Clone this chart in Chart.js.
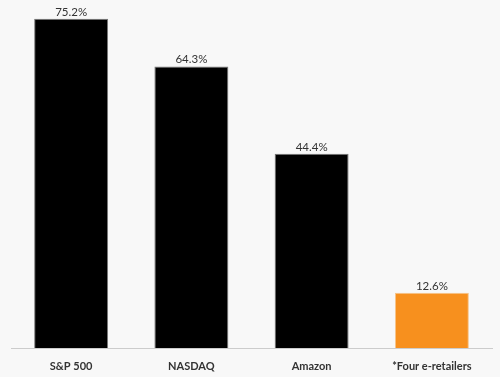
<!DOCTYPE html>
<html><head><meta charset="utf-8">
<script src="https://cdn.jsdelivr.net/npm/chart.js@4/dist/chart.umd.min.js"></script>
<style>html,body{margin:0;padding:0;background:#f8f8f8;}canvas{display:block;}</style>
</head><body>
<canvas id="c" width="500" height="377"></canvas>
<script>
const categories = ["S&P 500", "NASDAQ", "Amazon", "*Four e-retailers"];
const values = [75.2, 64.3, 44.4, 12.6];
const valueLabels = ["75.2%", "64.3%", "44.4%", "12.6%"];
const barColors = ["#000000", "#000000", "#000000", "#f7901e"];

const labelPlugin = {
  id: 'valueLabels',
  afterDatasetsDraw(chart) {
    const ctx = chart.ctx;
    const meta = chart.getDatasetMeta(0);
    ctx.save();
    ctx.font = '11.5px Lato';
    ctx.fillStyle = '#333333';
    ctx.textAlign = 'center';
    ctx.textBaseline = 'bottom';
    meta.data.forEach((bar, i) => {
      ctx.fillText(valueLabels[i], bar.x, bar.y - 1);
    });
    ctx.restore();
  }
};

new Chart(document.getElementById('c'), {
  type: 'bar',
  data: {
    labels: categories,
    datasets: [{
      data: values,
      backgroundColor: barColors,
      borderColor: ["#777777", "#777777", "#777777", "#f5c48a"],
      borderWidth: 1,
      categoryPercentage: 1,
      barPercentage: 0.615
    }]
  },
  options: {
    responsive: false,
    animation: false,
    layout: { padding: { left: 11, right: 8, top: 0, bottom: 0 } },
    plugins: { legend: { display: false }, tooltip: { enabled: false } },
    scales: {
      x: {
        grid: { display: false },
        border: { color: '#cccccc', width: 1 },
        ticks: { color: '#333333', font: { family: 'Lato', size: 11, weight: 'bold' }, padding: 4, maxRotation: 0 },
        afterFit(scale) { scale.height = 29; }
      },
      y: { display: false, min: 0, max: 79.5 }
    }
  },
  plugins: [labelPlugin]
});
</script>
</body></html>
